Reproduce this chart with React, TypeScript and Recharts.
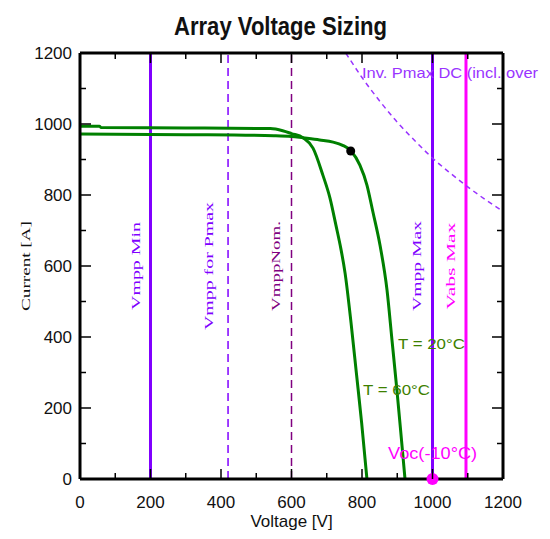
import { ComposedChart, Line, XAxis, YAxis, ReferenceLine, ReferenceDot } from "recharts";

// I-V curve at 60°C
const hotVoltage = [0, 55, 60, 300, 540, 575, 600, 633, 661, 689, 709, 726, 738, 752, 769, 784, 799, 814];
const hotCurrent = [994, 994, 990, 989, 987, 981, 973, 961, 932, 856, 792, 715, 659, 580, 439, 299, 158, 0];

// I-V curve at 20°C
const coldVoltage = [0, 300, 550, 600, 633, 680, 718, 745, 769, 794, 814, 831, 851, 871, 885, 899, 912, 922];
const coldCurrent = [972, 970, 967, 965, 961, 955, 949, 940, 924, 884, 828, 752, 659, 532, 392, 251, 110, 0];

// inverter max DC power limit
const pmaxVoltage = [754, 800, 850, 900, 950, 1000, 1050, 1100, 1150, 1200];
const pmaxCurrent = [1200, 1131, 1065, 1005, 953, 904, 862, 823, 787, 754];

const axisTicks = [0, 100, 200, 300, 400, 500, 600, 700, 800, 900, 1000, 1100, 1200];

const vmppMin = 200;
const vmppPmax = 420;
const vmppNom = 600;
const vmppMax = 1000;
const vabsMax = 1095;
const mppPoint = { v: 768, i: 924 };
const vocPoint = { v: 1000, i: 0 };

const toPoints = (vs: number[], is: number[]) => vs.map((v, k) => ({ v, i: is[k] }));

const hotData = toPoints(hotVoltage, hotCurrent);
const coldData = toPoints(coldVoltage, coldCurrent);
const pmaxData = toPoints(pmaxVoltage, pmaxCurrent);

const SANS = "'Liberation Sans', Arial, sans-serif";
const SERIF = "'Liberation Serif', 'Times New Roman', serif";

const isMajor = (val: number) => val % 200 === 0;

const BottomTick = ({ x, y, payload }: any) => (
  <g>
    <line x1={x} y1={y} x2={x} y2={y - (isMajor(payload.value) ? 10 : 6)} stroke="#000" strokeWidth={1.5} />
    {isMajor(payload.value) && (
      <text x={x} y={y + 29} textAnchor="middle" fontSize={17} fill="#111" fontFamily={SANS}>
        {payload.value}
      </text>
    )}
  </g>
);

const LeftTick = ({ x, y, payload }: any) => (
  <g>
    <line x1={x} y1={y} x2={x + (isMajor(payload.value) ? 11 : 6)} y2={y} stroke="#000" strokeWidth={1.5} />
    {isMajor(payload.value) && (
      <text x={x - 8} y={y + 6} textAnchor="end" fontSize={17} fill="#111" fontFamily={SANS}>
        {payload.value}
      </text>
    )}
  </g>
);

const TopTick = ({ x, y, payload }: any) => (
  <line x1={x} y1={y} x2={x} y2={y + (isMajor(payload.value) ? 10 : 6)} stroke="#000" strokeWidth={1.5} />
);

const RightTick = ({ x, y, payload }: any) => (
  <line x1={x} y1={y} x2={x - (isMajor(payload.value) ? 11 : 6)} y2={y} stroke="#000" strokeWidth={1.5} />
);

const centerOf = (p: any) => {
  const vb = p.viewBox ?? p;
  return { cx: vb.x + (vb.width || 0) / 2, cy: vb.y + (vb.height || 0) / 2, vb };
};

const SideLabel = (p: any, text: string, color: string, dx: number, len: number) => {
  const { cx, cy } = centerOf(p);
  const x = cx + dx;
  return (
    <text
      x={x}
      y={cy}
      transform={`rotate(-90 ${x} ${cy})`}
      textAnchor="middle"
      fill={color}
      fontSize={13}
      fontFamily={SERIF}
      textLength={len}
      lengthAdjust="spacingAndGlyphs"
    >
      {text}
    </text>
  );
};

const FreeLabel = (p: any, text: string, color: string, size: number, len: number) => {
  const { cx, cy } = centerOf(p);
  return (
    <text
      x={cx}
      y={cy}
      dominantBaseline="central"
      fill={color}
      fontSize={size}
      fontFamily={SANS}
      textLength={len}
      lengthAdjust="spacingAndGlyphs"
    >
      {text}
    </text>
  );
};

export default function App() {
  return (
    <ComposedChart width={542} height={523} margin={{ top: 0, right: 0, bottom: 0, left: 0 }}>
      <XAxis
        dataKey="v"
        type="number"
        domain={[0, 1200]}
        ticks={axisTicks}
        interval={0}
        allowDataOverflow
        height={52}
        tickSize={0}
        tickMargin={0}
        tickLine={false}
        axisLine={{ stroke: "#000", strokeWidth: 3 }}
        tick={BottomTick}
        label={(p: any) => {
          const vb = p.viewBox ?? p;
          return (
            <text x={vb.x + vb.width / 2} y={vb.y + 48} textAnchor="middle" fontSize={17} fill="#111" fontFamily={SANS}>
              Voltage [V]
            </text>
          );
        }}
      />
      <XAxis
        xAxisId="top"
        orientation="top"
        dataKey="v"
        type="number"
        domain={[0, 1200]}
        ticks={axisTicks}
        interval={0}
        allowDataOverflow
        height={45}
        tickSize={0}
        tickMargin={0}
        tickLine={false}
        axisLine={{ stroke: "#000", strokeWidth: 3 }}
        tick={TopTick}
        label={(p: any) => {
          const vb = p.viewBox ?? p;
          return (
            <text
              x={vb.x + vb.width / 2 - 11}
              y={vb.y + 27}
              textAnchor="middle"
              fontSize={26}
              fontWeight="bold"
              fill="#111"
              fontFamily={SANS}
              textLength={213}
              lengthAdjust="spacingAndGlyphs"
            >
              Array Voltage Sizing
            </text>
          );
        }}
      />
      <YAxis
        type="number"
        domain={[0, 1200]}
        ticks={axisTicks}
        interval={0}
        allowDataOverflow
        width={72}
        tickSize={0}
        tickMargin={0}
        tickLine={false}
        axisLine={{ stroke: "#000", strokeWidth: 3 }}
        tick={LeftTick}
        label={(p: any) => {
          const vb = p.viewBox ?? p;
          const x = vb.x + 22;
          const y = vb.y + vb.height / 2;
          return (
            <text
              x={x}
              y={y}
              transform={`rotate(-90 ${x} ${y})`}
              textAnchor="middle"
              fontSize={13}
              fill="#111"
              fontFamily={SERIF}
              textLength={90}
              lengthAdjust="spacingAndGlyphs"
            >
              Current [A]
            </text>
          );
        }}
      />
      <YAxis
        yAxisId="right"
        orientation="right"
        type="number"
        domain={[0, 1200]}
        ticks={axisTicks}
        interval={0}
        allowDataOverflow
        width={47}
        tickSize={0}
        tickMargin={0}
        tickLine={false}
        axisLine={{ stroke: "#000", strokeWidth: 3 }}
        tick={RightTick}
      />

      <ReferenceLine x={vmppMin} stroke="#8000ff" strokeWidth={3} label={(p: any) => SideLabel(p, "Vmpp Min", "#8000ff", -11, 88)} />
      <ReferenceLine x={vmppPmax} stroke="#8000ff" strokeWidth={1.5} strokeDasharray="8 5" label={(p: any) => SideLabel(p, "Vmpp for Pmax", "#8000ff", -15, 128)} />
      <ReferenceLine x={vmppNom} stroke="#800080" strokeWidth={1.5} strokeDasharray="8 5" label={(p: any) => SideLabel(p, "VmppNom.", "#800080", -12, 90)} />
      <ReferenceLine x={vmppMax} stroke="#8000ff" strokeWidth={3} label={(p: any) => SideLabel(p, "Vmpp Max", "#8000ff", -12, 90)} />
      <ReferenceLine x={vabsMax} stroke="#ff00ff" strokeWidth={3} label={(p: any) => SideLabel(p, "Vabs Max", "#ff00ff", -11, 87)} />

      <Line data={pmaxData} dataKey="i" type="monotone" stroke="#9933ff" strokeWidth={1.5} strokeDasharray="5 4" dot={false} isAnimationActive={false} />
      <Line data={hotData} dataKey="i" type="monotone" stroke="#008000" strokeWidth={3} dot={false} isAnimationActive={false} />
      <Line data={coldData} dataKey="i" type="monotone" stroke="#008000" strokeWidth={3} dot={false} isAnimationActive={false} />

      <ReferenceDot x={mppPoint.v} y={mppPoint.i} r={4.5} fill="#000" stroke="none" />
      <ReferenceDot x={vocPoint.v} y={vocPoint.i} r={6} fill="#ff00ff" stroke="none" />

      <ReferenceDot x={800} y={1144} r={0.01} fill="none" stroke="none" label={(p: any) => FreeLabel(p, "Inv. Pmax DC (incl. over", "#9933ff", 15, 176)} />
      <ReferenceDot x={902} y={383} r={0.01} fill="none" stroke="none" label={(p: any) => FreeLabel(p, "T = 20°C", "#3d8000", 15, 67)} />
      <ReferenceDot x={803} y={251} r={0.01} fill="none" stroke="none" label={(p: any) => FreeLabel(p, "T = 60°C", "#3d8000", 15, 67)} />
      <ReferenceDot x={874} y={73} r={0.01} fill="none" stroke="none" label={(p: any) => FreeLabel(p, "Voc(-10°C)", "#ff00ff", 16, 89)} />
    </ComposedChart>
  );
}
